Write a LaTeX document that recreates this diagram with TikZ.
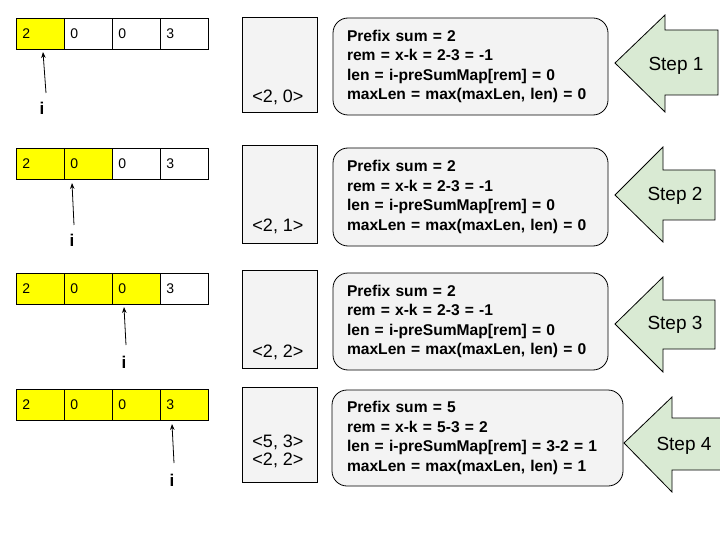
\documentclass[tikz,border=0pt]{standalone}
\usepackage{fontspec}
\setmainfont{Liberation Sans}
\usetikzlibrary{arrows.meta}
\definecolor{cellyellow}{HTML}{FFFF00}
\definecolor{boxgray}{HTML}{F3F3F3}
\definecolor{stepgreen}{HTML}{D9EAD3}
\tikzset{
  cell/.style={draw=black, line width=0.8pt, anchor=north west, text width=36pt, inner xsep=6pt, inner ysep=0pt,
    minimum height=31pt, align=left, font=\fontsize{14}{16}\selectfont},
  hot/.style={cell, fill=cellyellow},
  cold/.style={cell, fill=white},
  ilabel/.style={font=\fontsize{17}{19}\selectfont\bfseries, inner sep=0pt},
  ptr/.style={line width=0.8pt, -{Stealth[length=6pt,width=4.5pt]}},
  mapbox/.style={draw=black, line width=0.8pt, fill=boxgray, minimum width=75pt, anchor=north west, inner sep=0pt},
  maptext/.style={font=\fontsize{18}{18}\selectfont, align=center, inner sep=0pt},
  tbox/.style={draw=black, line width=0.8pt, fill=boxgray, rounded corners=15pt, align=left, inner xsep=14pt,
    inner ysep=0pt, font=\fontsize{15.6}{19.5}\selectfont\bfseries},
  steparrow/.style={draw=black, line width=0.8pt, fill=stepgreen, line join=miter},
  steptext/.style={font=\fontsize{19}{21}\selectfont, inner sep=0pt}
}
\begin{document}
\begin{tikzpicture}[x=1pt,y=-1pt]
\useasboundingbox (0,0) rectangle (720,540);
\fill[white] (0,0) rectangle (720,540);

% ---------- Row 1 ----------
\node[hot]  (a11) at (16,18)  {2};
\node[cold] (a12) at (64,18)  {0};
\node[cold] (a13) at (112,18) {0};
\node[cold] (a14) at (160,18) {3};
\node[ilabel] (i1) at (42,108) {i};
\coordinate (b1) at (46,93);
\coordinate (t1) at (43,52);
\draw[ptr] (b1) -- (t1);
\node[mapbox, minimum height=95pt] (m1) at (242,17) {};
\node[maptext] (m1t) at (278,97) {<2, 0>};
\node[tbox, text width=247pt, minimum width=275pt, minimum height=97pt] (s1) at (470.5,66.5)
  {Prefix sum = 2\\rem = x-k = 2-3 = -1\\len = i-preSumMap[rem] = 0\\maxLen = max(maxLen, len) = 0};
\draw[steparrow] (615,63) -- (665,15) -- (665,30) -- (718,30) -- (718,95) -- (665,95) -- (665,112) -- cycle;
\node[steptext] (st1) at (676,66) {Step 1};

% ---------- Row 2 ----------
\node[hot]  (a21) at (16,148)  {2};
\node[hot]  (a22) at (64,148)  {0};
\node[cold] (a23) at (112,148) {0};
\node[cold] (a24) at (160,148) {3};
\node[ilabel] (i2) at (72,240) {i};
\coordinate (b2) at (74,225);
\coordinate (t2) at (72,183);
\draw[ptr] (b2) -- (t2);
\node[mapbox, minimum height=98pt] (m2) at (242,145) {};
\node[maptext] (m2t) at (278,226) {<2, 1>};
\node[tbox, text width=247pt, minimum width=275pt, minimum height=98pt] (s2) at (470.5,197)
  {Prefix sum = 2\\rem = x-k = 2-3 = -1\\len = i-preSumMap[rem] = 0\\maxLen = max(maxLen, len) = 0};
\draw[steparrow] (615,195) -- (663,147) -- (663,170) -- (715,170) -- (715,220) -- (663,220) -- (663,242) -- cycle;
\node[steptext] (st2) at (675,196) {Step 2};

% ---------- Row 3 ----------
\node[hot]  (a31) at (16,273)  {2};
\node[hot]  (a32) at (64,273)  {0};
\node[hot]  (a33) at (112,273) {0};
\node[cold] (a34) at (160,273) {3};
\node[ilabel] (i3) at (124,362) {i};
\coordinate (b3) at (126,345);
\coordinate (t3) at (124,307);
\draw[ptr] (b3) -- (t3);
\node[mapbox, minimum height=98pt] (m3) at (242,270) {};
\node[maptext] (m3t) at (278,352) {<2, 2>};
\node[tbox, text width=247pt, minimum width=275pt, minimum height=97pt] (s3) at (470.5,321.5)
  {Prefix sum = 2\\rem = x-k = 2-3 = -1\\len = i-preSumMap[rem] = 0\\maxLen = max(maxLen, len) = 0};
\draw[steparrow] (615,324) -- (663,277) -- (663,300) -- (715,300) -- (715,349) -- (663,349) -- (663,372) -- cycle;
\node[steptext] (st3) at (675,325) {Step 3};

% ---------- Row 4 ----------
\node[hot]  (a41) at (16,389)  {2};
\node[hot]  (a42) at (64,389)  {0};
\node[hot]  (a43) at (112,389) {0};
\node[hot]  (a44) at (160,389) {3};
\node[ilabel] (i4) at (172,480) {i};
\coordinate (b4) at (174,463);
\coordinate (t4) at (172,424);
\draw[ptr] (b4) -- (t4);
\node[mapbox, minimum height=95pt] (m4) at (242,387) {};
\node[maptext] (m4t) at (278,451) {<5, 3>\\<2, 2>};
\node[tbox, text width=261pt, minimum width=291pt, minimum height=96pt] (s4) at (477.5,438)
  {Prefix sum = 5\\rem = x-k = 5-3 = 2\\len = i-preSumMap[rem] = 3-2 = 1\\maxLen = max(maxLen, len) = 1};
\draw[steparrow] (624,443) -- (672,397) -- (672,418) -- (722,418) -- (722,470) -- (672,470) -- (672,492) -- cycle;
\node[steptext] (st4) at (684,446) {Step 4};
\end{tikzpicture}
\end{document}
